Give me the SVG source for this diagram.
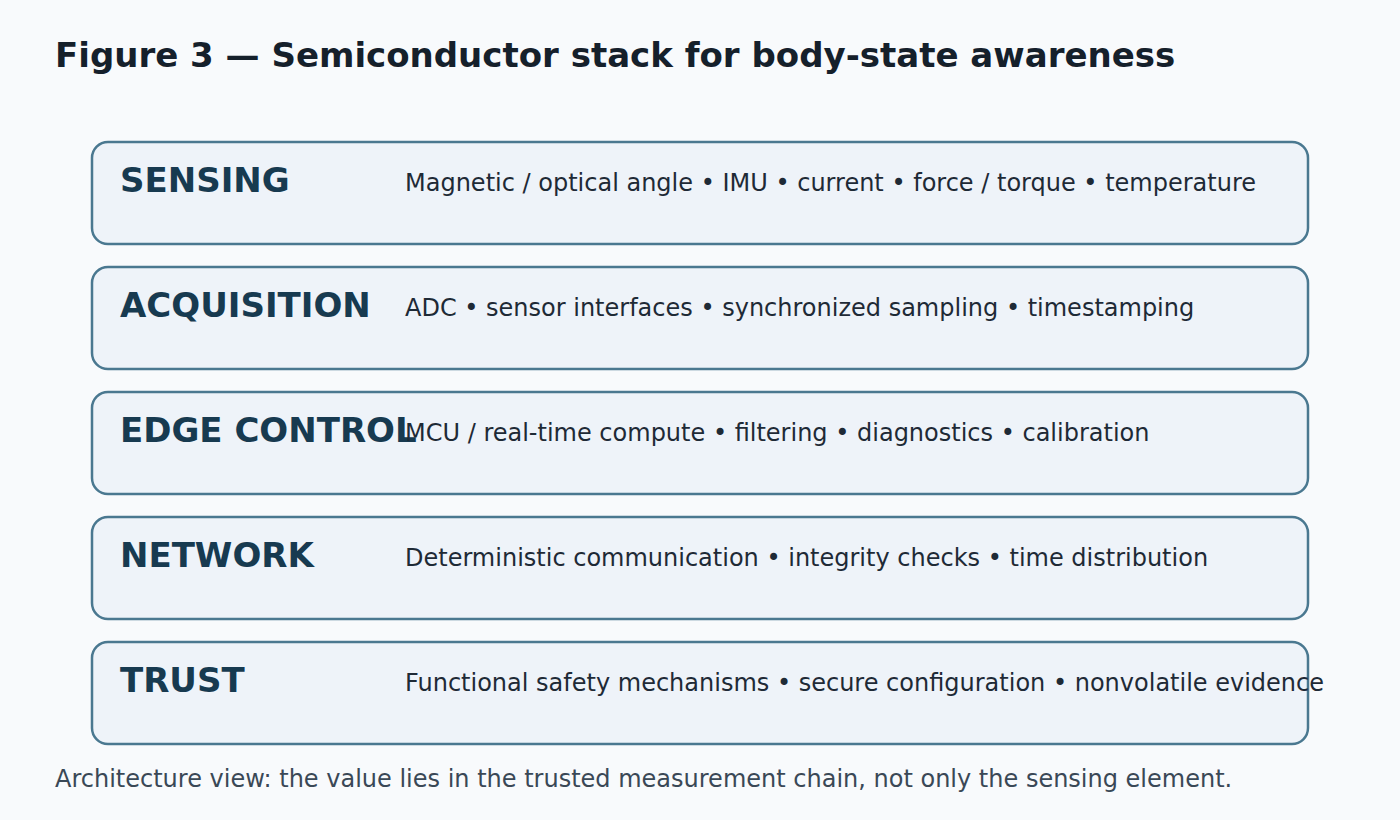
<svg xmlns="http://www.w3.org/2000/svg" width="1400" height="820" viewBox="0 0 1400 820">
<style>
.bg{fill:#f8fafc}
.title{font-family:"DejaVu Sans",sans-serif;font-weight:bold;font-size:34px;fill:#15202b}
.box{fill:#eef3f9;stroke:#4a7890;stroke-width:2.5}
.lbl{font-family:"DejaVu Sans",sans-serif;font-weight:bold;font-size:34px;fill:#173a50}
.desc{font-family:"DejaVu Sans",sans-serif;font-size:24px;fill:#1e2a36}
.cap{font-family:"DejaVu Sans",sans-serif;font-size:24px;fill:#3a4856}
</style>
<rect class="bg" x="0" y="0" width="1400" height="820"/>
<text class="title" x="55" y="67">Figure 3 — Semiconductor stack for body-state awareness</text>
<g id="connectors"></g>
<g id="sensing">
<rect class="box" x="92" y="142" width="1216" height="102" rx="16"/>
<text class="lbl" x="120" y="192">SENSING</text>
<text class="desc" x="405" y="191">Magnetic / optical angle • IMU • current • force / torque • temperature</text>
</g>
<g id="acquisition">
<rect class="box" x="92" y="267" width="1216" height="102" rx="16"/>
<text class="lbl" x="120" y="317">ACQUISITION</text>
<text class="desc" x="405" y="316">ADC • sensor interfaces • synchronized sampling • timestamping</text>
</g>
<g id="edge-control">
<rect class="box" x="92" y="392" width="1216" height="102" rx="16"/>
<text class="lbl" x="120" y="442">EDGE CONTROL</text>
<text class="desc" x="405" y="441">MCU / real-time compute • filtering • diagnostics • calibration</text>
</g>
<g id="network">
<rect class="box" x="92" y="517" width="1216" height="102" rx="16"/>
<text class="lbl" x="120" y="567">NETWORK</text>
<text class="desc" x="405" y="566">Deterministic communication • integrity checks • time distribution</text>
</g>
<g id="trust">
<rect class="box" x="92" y="642" width="1216" height="102" rx="16"/>
<text class="lbl" x="120" y="692">TRUST</text>
<text class="desc" x="405" y="691">Functional safety mechanisms • secure configuration • nonvolatile evidence</text>
</g>
<text class="cap" x="55" y="787">Architecture view: the value lies in the trusted measurement chain, not only the sensing element.</text>
</svg>
